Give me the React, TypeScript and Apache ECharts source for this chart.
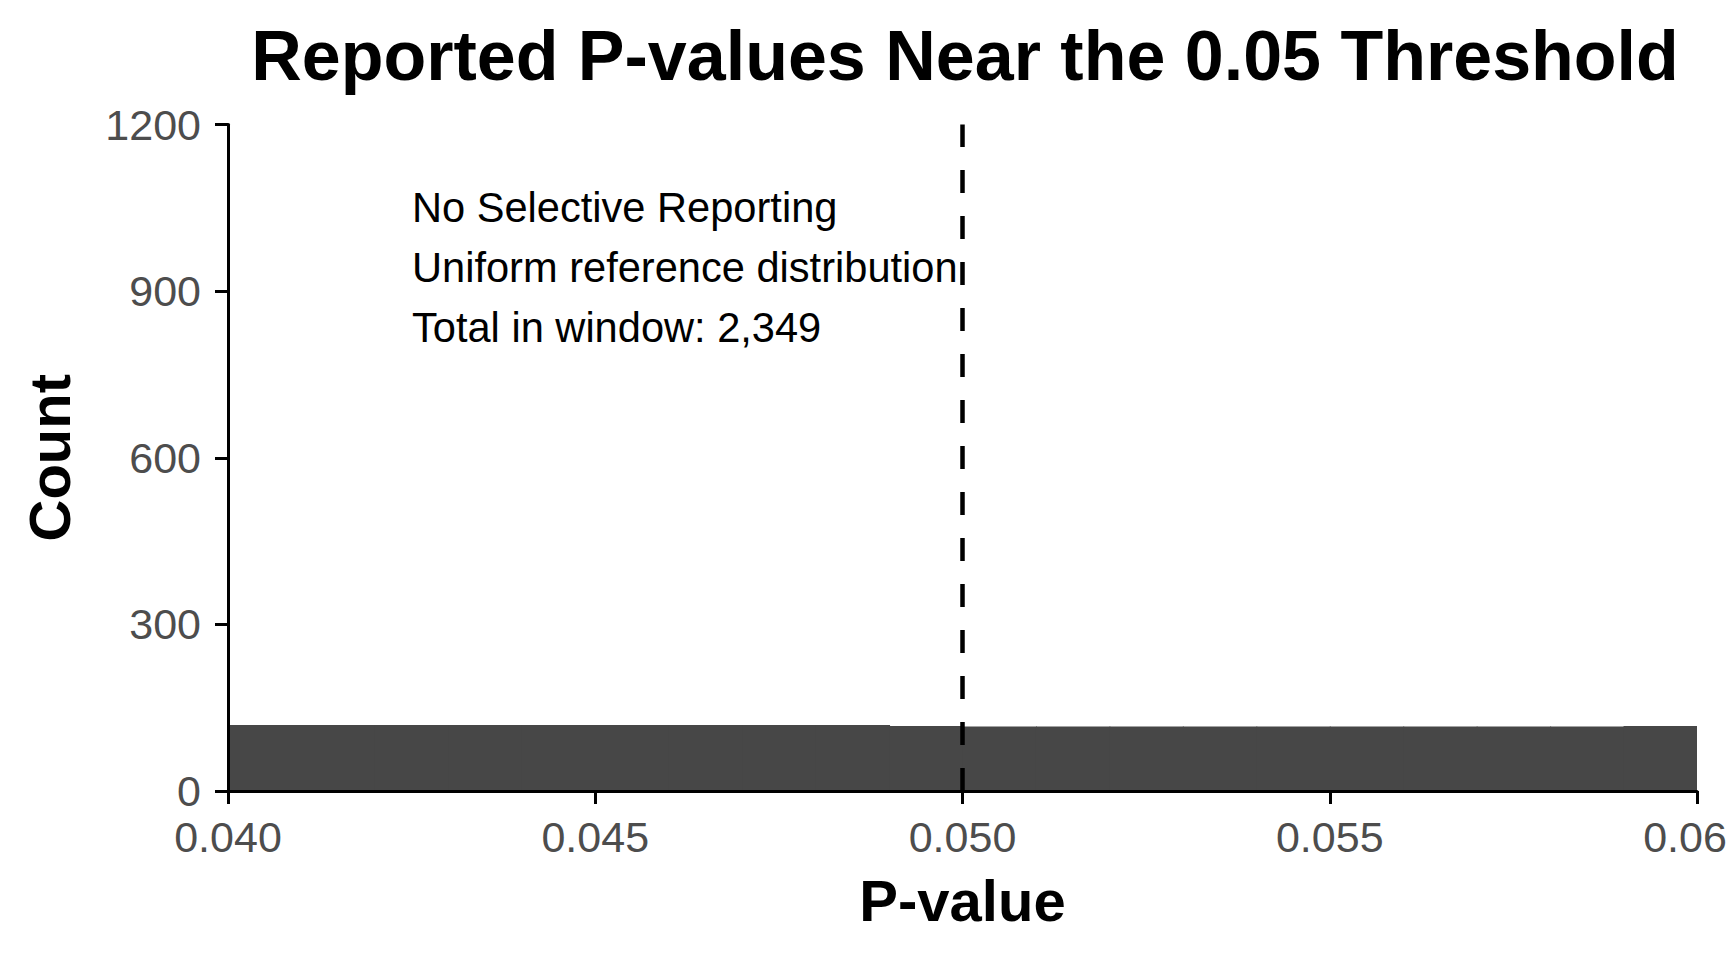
import React, { useEffect, useRef } from "react";
import * as echarts from "echarts";

const TITLE = "Reported P-values Near the 0.05 Threshold";
const X_NAME = "P-value";
const Y_NAME = "Count";
const BIN_STARTS = [0.04, 0.041, 0.042, 0.043, 0.044, 0.045, 0.046, 0.047, 0.048, 0.049, 0.05, 0.051, 0.052, 0.053, 0.054, 0.055, 0.056, 0.057, 0.058, 0.059];
const BIN_ENDS = [0.041, 0.042, 0.043, 0.044, 0.045, 0.046, 0.047, 0.048, 0.049, 0.05, 0.051, 0.052, 0.053, 0.054, 0.055, 0.056, 0.057, 0.058, 0.059, 0.06];
const BIN_COUNTS = [119, 119, 119, 119, 119, 119, 119, 119, 119, 117, 116, 116, 116, 116, 116, 116, 116, 116, 116, 117];
const THRESHOLD = 0.05;
const NOTE_LINES = ["No Selective Reporting", "Uniform reference distribution", "Total in window: 2,349"];
const X_MIN = 0.04;
const X_MAX = 0.06;
const X_STEP = 0.005;
const Y_MIN = 0;
const Y_MAX = 1200;
const Y_STEP = 300;

const FONT = "'Liberation Sans', Arial, Helvetica, sans-serif";

export default function App() {
  const ref = useRef<HTMLDivElement>(null);
  useEffect(() => {
    document.body.style.margin = "0";
    if (!ref.current) return;
    const chart = echarts.init(ref.current, undefined, { renderer: "svg" });
    const histData = BIN_STARTS.map((s, i) => [s, BIN_ENDS[i], BIN_COUNTS[i]]);
    const axisLine = { show: true, lineStyle: { color: "#000", width: 3 } };
    const axisTick = { show: true, length: 13, lineStyle: { color: "#000", width: 3 } };
    chart.setOption({
      animation: false,
      backgroundColor: "#fff",
      title: {
        text: TITLE,
        left: 960,
        top: 16,
        textAlign: "center",
        textStyle: { fontFamily: FONT, fontSize: 70, fontWeight: "bold", color: "#000" },
      },
      grid: {
        left: 228,
        right: 31,
        top: 124.5,
        bottom: 169,
        containLabel: false,
        outerBoundsMode: "none",
      },
      xAxis: {
        type: "value",
        min: X_MIN,
        max: X_MAX,
        interval: X_STEP,
        z: 5,
        axisLine,
        axisTick,
        splitLine: { show: false },
        axisLabel: {
          color: "#4D4D4D",
          fontSize: 43,
          fontFamily: FONT,
          margin: 24,
          showMaxLabel: true,
          showMinLabel: true,
          hideOverlap: false,
          formatter: (v: number) => v.toFixed(3),
        },
        name: X_NAME,
        nameLocation: "middle",
        nameGap: 80,
        nameTextStyle: { fontFamily: FONT, fontSize: 58, fontWeight: "bold", color: "#000" },
      },
      yAxis: {
        type: "value",
        min: Y_MIN,
        max: Y_MAX,
        interval: Y_STEP,
        z: 5,
        axisLine,
        axisTick,
        splitLine: { show: false },
        axisLabel: {
          color: "#4D4D4D",
          fontSize: 43,
          fontFamily: FONT,
          margin: 27,
          formatter: (v: number) => String(v),
        },
        name: Y_NAME,
        nameLocation: "middle",
        nameRotate: 90,
        nameGap: 150,
        nameTextStyle: { fontFamily: FONT, fontSize: 58, fontWeight: "bold", color: "#000" },
      },
      series: [
        {
          type: "custom",
          z: 1,
          data: histData,
          encode: { x: [0, 1], y: 2 },
          renderItem: (params: any, api: any) => {
            const p0 = api.coord([api.value(0), api.value(2)]);
            const p1 = api.coord([api.value(1), 0]);
            const last = params.dataIndex === BIN_STARTS.length - 1;
            return {
              type: "rect",
              shape: {
                x: p0[0],
                y: p0[1],
                width: p1[0] - p0[0] + (last ? 0 : 1),
                height: p1[1] - p0[1],
              },
              style: { fill: "#474747" },
            };
          },
        },
        {
          type: "line",
          z: 3,
          data: [
            [THRESHOLD, Y_MIN],
            [THRESHOLD, Y_MAX],
          ],
          symbol: "none",
          lineStyle: { color: "#000", width: 4.5, type: [23, 23] },
        },
      ],
      graphic: NOTE_LINES.map((t, i) => ({
        type: "text",
        x: 412,
        y: 207 + i * 60,
        z: 10,
        style: {
          text: t,
          fontFamily: FONT,
          fontSize: 41.6,
          fill: "#000",
          verticalAlign: "middle",
        },
      })),
    });
    return () => chart.dispose();
  }, []);
  return <div ref={ref} style={{ width: 1728, height: 960 }} />;
}
